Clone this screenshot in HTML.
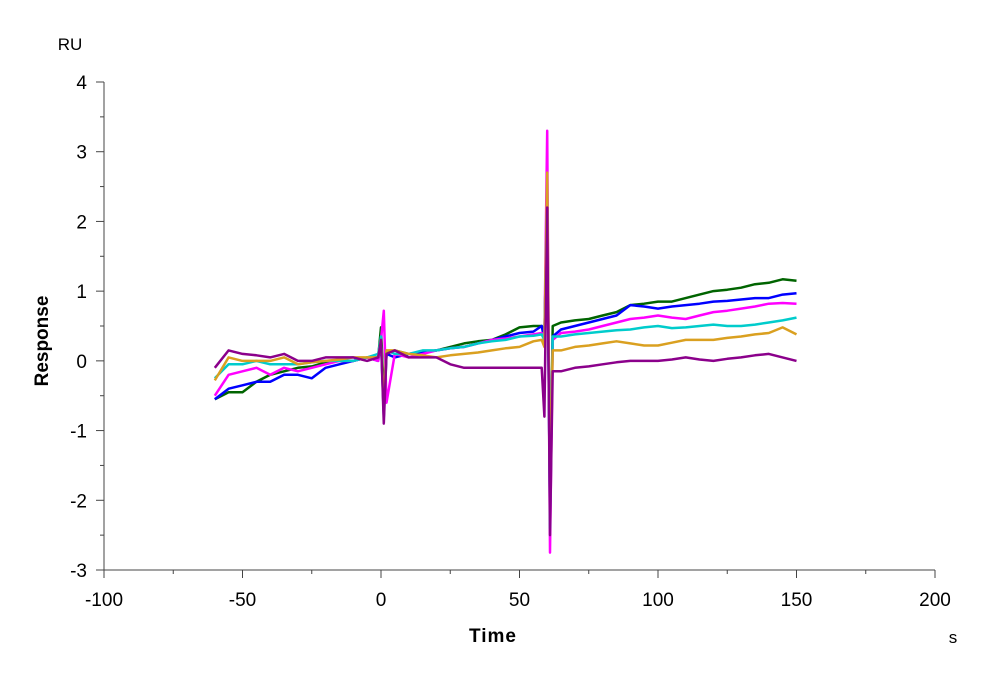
<!DOCTYPE html>
<html><head><meta charset="utf-8"><style>
body{margin:0;background:#fff;}
svg{display:block;font-family:"Liberation Sans",Arial,sans-serif;}
</style></head><body>
<svg id="chart" width="1000" height="679" viewBox="0 0 1000 679" xmlns="http://www.w3.org/2000/svg">
<g id="axes"></g>
<g id="series"></g>
<text x="70" y="50" font-size="17" text-anchor="middle">RU</text>
<text transform="translate(48,341) rotate(-90)" font-size="19" font-weight="bold" text-anchor="middle">Response</text>
<text x="493" y="642" font-size="19" font-weight="bold" text-anchor="middle" letter-spacing="1">Time</text>
<text x="953" y="643" font-size="17" text-anchor="middle">s</text>
</svg>
<script>
const xTicks = [-100,-50,0,50,100,150,200];
const yTicks = [-3,-2,-1,0,1,2,3,4];
const times = [-60,-55,-50,-45,-40,-35,-30,-25,-20,-15,-10,-5,-1,0,1,2,5,10,15,20,25,30,35,40,45,50,55,58,59,60,61,62,65,70,75,80,85,90,95,100,105,110,115,120,125,130,135,140,145,150];
const greenVals = [-0.55,-0.45,-0.45,-0.3,-0.2,-0.15,-0.1,-0.08,-0.02,0,0,0.05,0.05,0.48,-0.5,0.1,0.15,0.1,0.12,0.15,0.2,0.25,0.28,0.3,0.38,0.48,0.5,0.5,0.4,2.2,-2.0,0.5,0.55,0.58,0.6,0.65,0.7,0.8,0.82,0.85,0.85,0.9,0.95,1.0,1.02,1.05,1.1,1.12,1.17,1.15];
const blueVals = [-0.55,-0.4,-0.35,-0.3,-0.3,-0.2,-0.2,-0.25,-0.1,-0.05,0,0.05,0,0.3,-0.8,0.1,0.05,0.1,0.12,0.15,0.18,0.2,0.25,0.3,0.35,0.4,0.42,0.5,0.3,2.0,-2.2,0.35,0.45,0.5,0.55,0.6,0.65,0.8,0.78,0.75,0.78,0.8,0.82,0.85,0.86,0.88,0.9,0.9,0.95,0.97];
const magentaVals = [-0.5,-0.2,-0.15,-0.1,-0.2,-0.1,-0.15,-0.1,-0.05,0,0,0.05,0,0.3,0.72,-0.6,0.1,0.05,0.1,0.15,0.18,0.2,0.25,0.3,0.32,0.35,0.38,0.4,0.3,3.3,-2.75,0.3,0.4,0.42,0.45,0.5,0.55,0.6,0.62,0.65,0.62,0.6,0.65,0.7,0.72,0.75,0.78,0.82,0.83,0.82];
const cyanVals = [-0.25,-0.05,-0.05,0,-0.05,-0.05,-0.05,-0.02,0,0,0,0.05,0.1,0.35,-0.7,0.15,0.1,0.1,0.15,0.15,0.18,0.2,0.25,0.28,0.3,0.35,0.36,0.38,0.3,2.5,-2.4,0.35,0.35,0.38,0.4,0.42,0.44,0.45,0.48,0.5,0.47,0.48,0.5,0.52,0.5,0.5,0.52,0.55,0.58,0.62];
const orangeVals = [-0.28,0.05,0,0,0,0.05,-0.05,-0.02,0,0.02,0.05,0.05,0.05,0.3,-0.6,0.15,0.15,0.1,0.08,0.05,0.08,0.1,0.12,0.15,0.18,0.2,0.28,0.3,0.2,2.7,-2.0,0.15,0.15,0.2,0.22,0.25,0.28,0.25,0.22,0.22,0.26,0.3,0.3,0.3,0.33,0.35,0.38,0.4,0.48,0.38];
const purpleVals = [-0.1,0.15,0.1,0.08,0.05,0.1,0,0,0.05,0.05,0.05,0,0.05,0.3,-0.9,0.1,0.15,0.05,0.05,0.05,-0.05,-0.1,-0.1,-0.1,-0.1,-0.1,-0.1,-0.1,-0.8,2.2,-2.5,-0.15,-0.15,-0.1,-0.08,-0.05,-0.02,0,0,0,0.02,0.05,0.02,0,0.03,0.05,0.08,0.1,0.05,0];
const seriesNames = ['green','blue','magenta','cyan','orange','purple'];
const seriesColors = ['#006400','#0000ff','#ff00ff','#00cccc','#daa020','#8b008b'];
const seriesVals = [greenVals,blueVals,magentaVals,cyanVals,orangeVals,purpleVals];

const NS='http://www.w3.org/2000/svg';
const X0=104, X1=935, XMIN=-100, XMAX=200;
const Y0=570, Y1=82, YMIN=-3, YMAX=4;
function xs(v){return X0+(v-XMIN)/(XMAX-XMIN)*(X1-X0);}
function ys(v){return Y0-(v-YMIN)/(YMAX-YMIN)*(Y0-Y1);}
function mk(tag,attrs,parent){const e=document.createElementNS(NS,tag);for(const k in attrs)e.setAttribute(k,attrs[k]);parent.appendChild(e);return e;}
const axes=document.getElementById('axes');
let e=mk('line',{x1:X0,y1:Y0,x2:X1,y2:Y0,stroke:'#444','stroke-width':1},axes);


e=mk('line',{x1:X0,y1:Y0,x2:X0,y2:Y1,stroke:'#444','stroke-width':1},axes);


for(let i=0;i<xTicks.length;i++){
  const v=xTicks[i];
  e=mk('line',{x1:xs(v),y1:Y0,x2:xs(v),y2:Y0+8,stroke:'#444'},axes);
  
  
  e=mk('text',{x:xs(v),y:Y0+36,'font-size':19,'text-anchor':'middle'},axes);
  e.textContent=v;
  
  
  if(i<xTicks.length-1){
    const m=(v+xTicks[i+1])/2;
    e=mk('line',{x1:xs(m),y1:Y0,x2:xs(m),y2:Y0+4,stroke:'#444'},axes);
    
    
  }
}
for(let i=0;i<yTicks.length;i++){
  const v=yTicks[i];
  e=mk('line',{x1:X0-8,y1:ys(v),x2:X0,y2:ys(v),stroke:'#444'},axes);
  
  
  e=mk('text',{x:X0-17,y:ys(v)+7,'font-size':19,'text-anchor':'end'},axes);
  e.textContent=v;
  
  
  if(i<yTicks.length-1){
    const m=(v+yTicks[i+1])/2;
    e=mk('line',{x1:X0-4,y1:ys(m),x2:X0,y2:ys(m),stroke:'#444'},axes);
    
    
  }
}
const sg=document.getElementById('series');
for(let s=0;s<seriesVals.length;s++){
  const d=times.map((t,i)=>(i?'L':'M')+xs(t).toFixed(1)+','+ys(seriesVals[s][i]).toFixed(1)).join(' ');
  const p=mk('path',{d:d,fill:'none',stroke:seriesColors[s],'stroke-width':2.5,'stroke-linejoin':'round'},sg);
  
  
}
</script>
</body></html>
